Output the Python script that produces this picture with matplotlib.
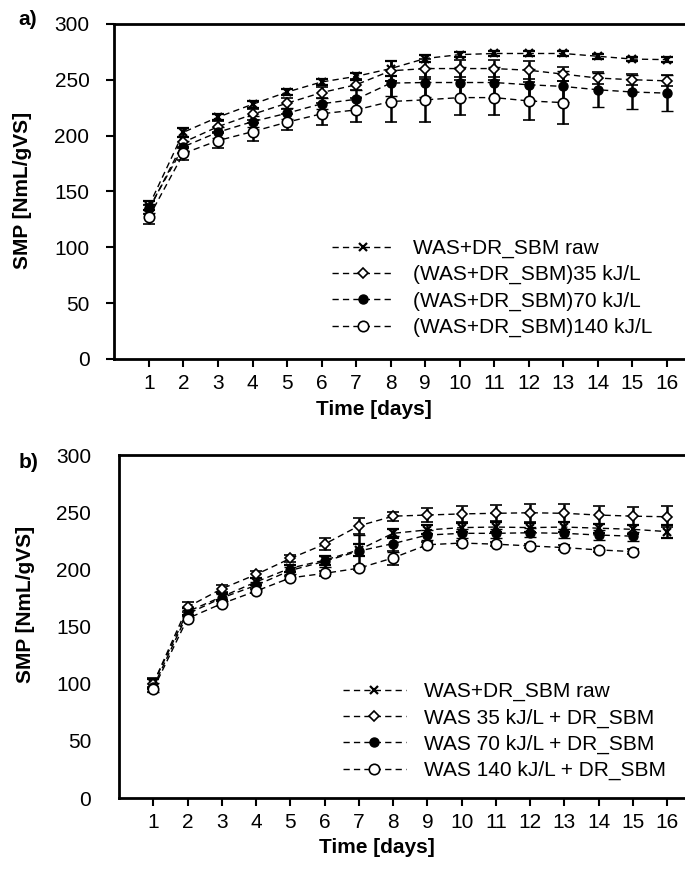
import matplotlib
matplotlib.use("Agg")
import matplotlib.pyplot as plt
import numpy as np

plt.rcParams['font.family'] = ['Liberation Sans', 'DejaVu Sans']
plt.rcParams['font.size'] = 15

days = np.arange(1, 17)

# panel a) data
a_raw = [137, 203, 216.5, 228, 239, 248, 253, 260, 269, 272.5, 273.5, 273.5, 273.5, 271, 268.5, 268]
a_raw_err = [4, 4, 3, 3, 3, 3, 3, 7, 3, 2, 2, 2, 2, 2, 2, 2]
a_35 = [133.5, 194, 208, 219, 229, 238.5, 245.5, 258, 260, 260, 260, 258.5, 255, 251.5, 250, 249]
a_35_err = [4, 5, 5, 5, 5, 5, 5, 9, 9, 8, 8, 8, 6, 5, 5, 5]
a_70 = [135, 190, 203, 212.5, 220, 228.5, 232.5, 247, 247.5, 247.5, 247.5, 245.5, 244, 241, 239, 238]
a_70_err = [4, 5, 5, 5, 5, 5, 8, 12, 13, 14, 14, 14, 14, 15, 15, 16]
a_140 = [127, 184, 195.5, 203.5, 212, 219.5, 223, 230.5, 232, 234, 234, 231, 229.5]
a_140_err = [6, 6, 7, 8, 7, 10, 11, 18, 20, 16, 16, 17, 19]
a_labels = ['WAS+DR_SBM raw', '(WAS+DR_SBM)35 kJ/L',
            '(WAS+DR_SBM)70 kJ/L', '(WAS+DR_SBM)140 kJ/L']

# panel b) data
b_raw = [100, 163, 176, 189, 201, 208, 217, 231.5, 234.5, 236.5, 237, 236.5, 237, 236, 235, 233]
b_raw_err = [4, 3, 3, 3, 3, 4, 5, 4, 4, 4, 4, 4, 4, 4, 4, 6]
b_35 = [100, 167, 183, 195.5, 209.5, 222, 238, 246.5, 247.5, 248.5, 249, 249.5, 249, 247.5, 246.5, 246]
b_35_err = [5, 4, 3, 3, 3, 5, 7, 4, 6, 7, 7, 8, 8, 8, 8, 9]
b_70 = [97, 161, 175, 186, 199, 207, 216, 222.5, 230, 231.5, 231.5, 232, 231.5, 230, 229]
b_70_err = [4, 3, 3, 3, 3, 5, 14, 7, 4, 4, 4, 4, 4, 4, 4]
b_140 = [95, 157, 170, 181, 192.5, 196.5, 201, 210, 221.5, 223, 222, 220.5, 219, 217, 215.5]
b_140_err = [2, 2, 2, 2, 2, 2, 2, 6, 2, 2, 2, 2, 2, 2, 2]
b_labels = ['WAS+DR_SBM raw', 'WAS 35 kJ/L + DR_SBM',
            'WAS 70 kJ/L + DR_SBM', 'WAS 140 kJ/L + DR_SBM']

# marker styles: raw, 35, 70, 140
styles = [
    dict(marker='x', ms=6, mfc='black', mew=1.6),
    dict(marker='D', ms=5.5, mfc='white', mew=1.2),
    dict(marker='o', ms=6.5, mfc='black', mew=1.0),
    dict(marker='o', ms=7.5, mfc='white', mew=1.2),
]


def draw_panel(ax, series, errs, labels, ytick_len, ytick_pad, xlab_y, ylab_x, ylab_y, leg_anchor):
    for vals, err, st, lab in zip(series, errs, styles, labels):
        x = days[:len(vals)]
        ax.errorbar(x, vals, yerr=err, color='black', ls=(0, (4.5, 3)), lw=1.0,
                    elinewidth=1.8, capsize=4.5, capthick=1.8, mec='black',
                    label=lab, **st)

    ax.set_xlim(0, 16.52)
    ax.set_ylim(0, 300)
    ax.set_xticks(days)
    ax.set_yticks(np.arange(0, 301, 50))
    ax.tick_params(axis='x', direction='out', length=6, width=1.5, pad=5)
    ax.tick_params(axis='y', direction='out', length=ytick_len, width=1.5, pad=ytick_pad)
    for s in ['left', 'bottom', 'top']:
        ax.spines[s].set_linewidth(2)
    ax.spines['right'].set_visible(False)

    ax.set_xlabel('Time [days]', fontweight='bold', fontsize=15)
    ax.set_ylabel('SMP [NmL/gVS]', fontweight='bold', fontsize=15)
    ax.xaxis.set_label_coords(0.455, xlab_y)
    ax.yaxis.set_label_coords(ylab_x, ylab_y)

    # legend handles: dashed line with the marker in the middle
    handles, labs = ax.get_legend_handles_labels()
    handles = [h[0] for h in handles]
    ax.legend(handles, labs, loc='lower right', bbox_to_anchor=leg_anchor,
              frameon=False, handlelength=3.0, handletextpad=0.9,
              labelspacing=0.34, fontsize=15, numpoints=1)


fig = plt.figure(figsize=(6.85, 8.69), dpi=100)

ax1 = fig.add_axes([0.167, 0.587, 0.833, 0.3855])
draw_panel(ax1, [a_raw, a_35, a_70, a_140],
           [a_raw_err, a_35_err, a_70_err, a_140_err], a_labels,
           6, 12, -0.122, -0.145, 0.504, (0.976, 0.009))
fig.text(0.04, 0.978, 'a)', fontweight='bold', fontsize=15, ha='center', va='center')

ax2 = fig.add_axes([0.1737, 0.0817, 0.8263, 0.3947])
draw_panel(ax2, [b_raw, b_35, b_70, b_140],
           [b_raw_err, b_35_err, b_70_err, b_140_err], b_labels,
           0, 20, -0.117, -0.148, 0.563, (1.0, -0.003))
fig.text(0.041, 0.468, 'b)', fontweight='bold', fontsize=15, ha='center', va='center')

fig.savefig('out.png', dpi=100)
